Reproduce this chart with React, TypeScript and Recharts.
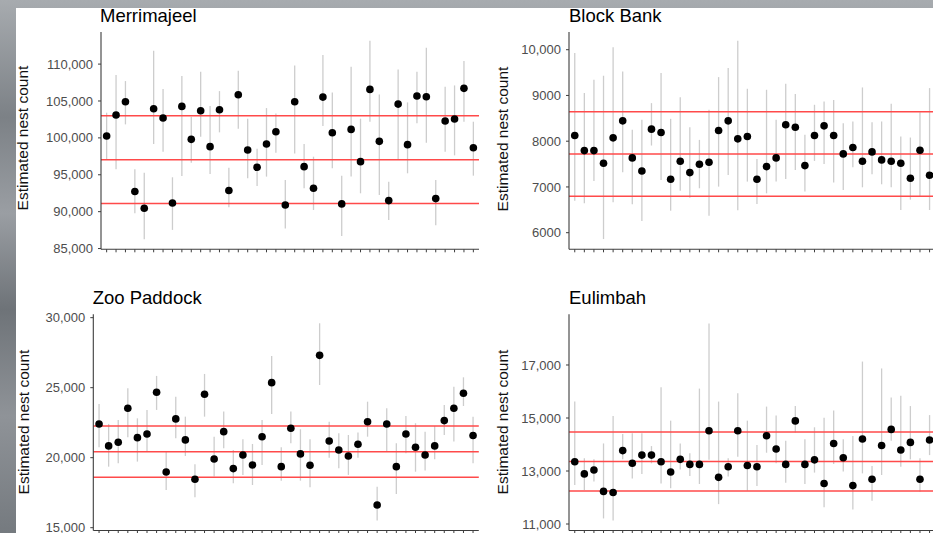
import { ComposedChart, Scatter, ErrorBar, XAxis, YAxis, ReferenceLine } from "recharts";

const FONT = '"Liberation Sans", Arial, Helvetica, sans-serif';
const AXIS = "#3c3c3c";

// survey index along the x axis (no labels in the original)
const surveys = [
  1, 2, 3, 4, 5, 6, 7, 8, 9, 10, 11, 12, 13, 14, 15, 16, 17, 18, 19, 20,
  21, 22, 23, 24, 25, 26, 27, 28, 29, 30, 31, 32, 33, 34, 35, 36, 37, 38, 39, 40,
];

// Merrimajeel
const merrimajeelEst = [100250, 103100, 104900, 92730, 90460, 103950, 102690, 91180, 104270, 99800, 103680, 98810, 103820, 92870, 105850, 98360, 96010, 99170, 100840, 90910, 104900, 96100, 93170, 105530, 100700, 91050, 101150, 96780, 106570, 99530, 91500, 104580, 99080, 105670, 105580, 91770, 102280, 102550, 106710, 98670];
const merrimajeelLow = [97090, 95740, 101830, 89780, 86260, 99170, 98130, 87530, 94840, 96640, 100160, 95110, 100750, 90590, 101240, 94520, 93480, 94750, 97990, 87710, 97900, 93170, 90230, 101610, 95870, 86710, 94750, 92490, 102190, 92260, 88880, 97000, 95200, 101970, 99350, 88160, 98130, 97630, 102190, 94880];
const merrimajeelHigh = [103410, 108510, 107700, 95740, 95290, 111800, 106620, 94660, 108380, 102870, 108960, 104310, 106340, 95940, 109100, 102600, 98540, 104040, 103320, 94300, 109820, 99170, 97450, 111220, 106160, 94880, 109640, 102600, 113160, 105890, 94070, 109280, 104810, 108960, 112220, 94300, 106930, 107110, 110410, 102190];
const merrimajeelLines = [103000, 97050, 91100];
const merrimajeelTicks = [85000, 90000, 95000, 100000, 105000, 110000];

// Block Bank
const blockBankEst = [8124, 7795, 7795, 7518, 8073, 8445, 7635, 7350, 8263, 8190, 7168, 7562, 7314, 7496, 7540, 8233, 8445, 8051, 8102, 7168, 7445, 7635, 8358, 8306, 7467, 8124, 8336, 8124, 7722, 7861, 7562, 7766, 7591, 7562, 7518, 7190, 7803, 7255];
const blockBankLow = [6700, 6642, 7131, 5861, 6664, 7321, 6620, 6255, 7905, 7153, 6481, 6919, 6766, 6971, 6372, 7007, 7263, 6489, 7117, 6627, 6861, 7117, 7175, 7372, 6898, 7569, 7503, 7095, 6934, 7430, 6992, 7277, 7058, 6992, 6496, 6722, 6803, 6496];
const blockBankHigh = [9927, 9051, 9343, 9431, 10051, 9526, 8248, 8467, 8832, 9489, 8489, 8963, 8306, 8029, 8686, 9401, 9599, 10197, 9146, 7613, 9124, 8467, 9255, 9029, 8139, 8796, 8869, 8898, 8394, 8431, 9175, 8416, 8431, 8817, 8102, 8080, 8635, 9161];
const blockBankLines = [8645, 7722, 6795];
const blockBankTicks = [6000, 7000, 8000, 9000, 10000];

// Zoo Paddock
const zooPaddockEst = [22410, 20840, 21100, 23530, 21430, 21690, 24670, 18980, 22770, 21270, 18460, 24530, 19910, 21860, 19220, 20190, 19480, 21500, 25360, 19360, 22100, 20270, 19460, 27310, 21190, 20550, 20120, 20960, 22570, 16620, 22410, 19360, 21690, 20740, 20190, 20840, 22650, 23530, 24600, 21580];
const zooPaddockLow = [20740, 19360, 19600, 21460, 19720, 20430, 23410, 17700, 21380, 20120, 17170, 22930, 18650, 20670, 18170, 18770, 18050, 19480, 23120, 18360, 21030, 18360, 17890, 25190, 20000, 19240, 18770, 20000, 21500, 15510, 20430, 17410, 20310, 19000, 19080, 19890, 21620, 21150, 23690, 19600];
const zooPaddockHigh = [23840, 22410, 22690, 24950, 22810, 23410, 25840, 20430, 24360, 22930, 19530, 25980, 21500, 23290, 20550, 21310, 20980, 22690, 27260, 20740, 23290, 22030, 21310, 29600, 22570, 21740, 21620, 21790, 24000, 17930, 23530, 21030, 22980, 22460, 21860, 22270, 23760, 25070, 25740, 22930];
const zooPaddockLines = [22270, 20430, 18600];
const zooPaddockTicks = [15000, 20000, 25000, 30000];

// Eulimbah
const eulimbahEst = [13350, 12890, 13040, 12230, 12190, 13770, 13290, 13600, 13600, 13350, 12960, 13440, 13250, 13250, 14520, 12760, 13160, 14520, 13210, 13160, 14330, 13830, 13250, 14890, 13250, 13420, 12530, 14040, 13500, 12450, 14210, 12690, 13960, 14570, 13790, 14080, 12690, 14170];
const eulimbahLow = [12470, 12280, 12600, 11210, 11130, 13440, 12720, 12890, 13290, 12530, 12350, 13060, 12810, 12510, 13420, 11750, 12790, 13540, 12260, 12430, 13690, 13290, 12560, 14450, 12510, 12940, 11630, 13260, 12980, 11550, 12910, 11880, 12850, 14140, 13160, 13440, 12220, 13600];
const eulimbahHigh = [15620, 13480, 13440, 14040, 15080, 14400, 14420, 14420, 13940, 16160, 14900, 14040, 13670, 16110, 18570, 15620, 13480, 15930, 14900, 13980, 15430, 15090, 14140, 15450, 14200, 14650, 15010, 15280, 14200, 14320, 17130, 13190, 16870, 15770, 15840, 15450, 13480, 15110];
const eulimbahLines = [14470, 13360, 12250];
const eulimbahTicks = [11000, 13000, 15000, 17000];

type Row = { i: number; est: number; err: [number, number] };

function buildRows(est: number[], low: number[], high: number[]): Row[] {
  return est.map((v, k) => ({ i: surveys[k], est: v, err: [v - low[k], high[k] - v] }));
}

const fmt = (v: number) => (v >= 10000 ? v.toLocaleString("en-US") : String(v));

type PanelProps = {
  title: string;
  est: number[];
  low: number[];
  high: number[];
  lines: number[];
  ticks: number[];
  domain: [number, number];
  left: number;
  top: number;
  height: number;
  plotTop: number;
  right: number;
  bottom: number;
  xh: number;
  yw: number;
  titleX: number;
  titleY: number;
  labelX: number;
  labelY: number;
};

const CHART_W = 490;

function Panel(p: PanelProps) {
  const rows = buildRows(p.est, p.low, p.high);
  return (
    <>
      <div style={{ position: "absolute", left: p.left, top: p.top, width: CHART_W, height: p.height }}>
        <ComposedChart
          width={CHART_W}
          height={p.height}
          data={rows}
          margin={{ top: p.plotTop, right: p.right, left: 0, bottom: p.bottom }}
        >
          <XAxis
            type="number"
            dataKey="i"
            domain={[0.4, 40.6]}
            ticks={surveys}
            interval={0}
            tick={() => <g />}
            tickSize={3}
            height={p.xh}
            axisLine={{ stroke: AXIS, strokeWidth: 1.1 }}
            tickLine={{ stroke: AXIS }}
          />
          <YAxis
            type="number"
            dataKey="est"
            domain={p.domain}
            ticks={p.ticks}
            interval={0}
            allowDataOverflow
            width={p.yw}
            tickFormatter={fmt}
            tickSize={3}
            tickMargin={5}
            tick={{ fill: "#4d4d4d", fontSize: 13, fontFamily: FONT }}
            axisLine={{ stroke: AXIS, strokeWidth: 1.1 }}
            tickLine={{ stroke: AXIS }}
          />
          <Scatter dataKey="est" isAnimationActive={false} shape={() => <g />}>
            <ErrorBar
              dataKey="err"
              direction="y"
              width={0}
              stroke="#cdcdcd"
              strokeWidth={1.3}
              isAnimationActive={false}
            />
          </Scatter>
          {p.lines.map((y) => (
            <ReferenceLine key={y} y={y} stroke="#ff4a4a" strokeWidth={1.5} />
          ))}
          <Scatter
            dataKey="est"
            isAnimationActive={false}
            shape={(s: any) => <circle cx={s.cx} cy={s.cy} r={3.8} fill="#000" />}
          />
        </ComposedChart>
      </div>
      <div
        style={{
          position: "absolute",
          left: p.titleX,
          top: p.titleY,
          fontFamily: FONT,
          fontSize: 18.5,
          lineHeight: "19px",
          color: "#000",
          whiteSpace: "nowrap",
        }}
      >
        {p.title}
      </div>
      <div
        style={{
          position: "absolute",
          left: p.labelX,
          top: p.labelY,
          transform: "translate(-50%, -50%) rotate(-90deg)",
          fontFamily: FONT,
          fontSize: 15.5,
          lineHeight: "16px",
          color: "#111",
          whiteSpace: "nowrap",
        }}
      >
        Estimated nest count
      </div>
    </>
  );
}

export default function App() {
  return (
    <div
      style={{
        position: "absolute",
        left: 0,
        top: 0,
        width: 933,
        height: 533,
        overflow: "hidden",
        background:
          "linear-gradient(180deg, #a7abaf 0%, #7c8186 22%, #9a9ea3 40%, #6e7378 58%, #8f9398 78%, #757a7f 100%)",
      }}
    >
      <div style={{ position: "absolute", left: 16, top: 8, right: 0, bottom: 0, background: "#fff" }} />
      <Panel
        title="Merrimajeel"
        est={merrimajeelEst}
        low={merrimajeelLow}
        high={merrimajeelHigh}
        lines={merrimajeelLines}
        ticks={merrimajeelTicks}
        domain={[84900, 114350]}
        left={0}
        top={0}
        height={262}
        plotTop={32}
        right={11}
        bottom={6.7}
        xh={6}
        yw={101}
        titleX={100}
        titleY={6}
        labelX={23.3}
        labelY={138}
      />
      <Panel
        title="Block Bank"
        est={blockBankEst}
        low={blockBankLow}
        high={blockBankHigh}
        lines={blockBankLines}
        ticks={blockBankTicks}
        domain={[5637, 10387]}
        left={480}
        top={0}
        height={262}
        plotTop={32}
        right={15.5}
        bottom={6.7}
        xh={6}
        yw={89}
        titleX={569}
        titleY={6}
        labelX={502.7}
        labelY={139}
      />
      <Panel
        title="Zoo Paddock"
        est={zooPaddockEst}
        low={zooPaddockLow}
        high={zooPaddockHigh}
        lines={zooPaddockLines}
        ticks={zooPaddockTicks}
        domain={[14800, 30240]}
        left={0}
        top={270}
        height={263}
        plotTop={44.3}
        right={11.2}
        bottom={0}
        xh={2.5}
        yw={93.3}
        titleX={92.7}
        titleY={288}
        labelX={24}
        labelY={421.7}
      />
      <Panel
        title="Eulimbah"
        est={eulimbahEst}
        low={eulimbahLow}
        high={eulimbahHigh}
        lines={eulimbahLines}
        ticks={eulimbahTicks}
        domain={[10755, 18913]}
        left={480}
        top={270}
        height={263}
        plotTop={44.3}
        right={15.5}
        bottom={0}
        xh={2.5}
        yw={89}
        titleX={569}
        titleY={288}
        labelX={502.7}
        labelY={421.7}
      />
    </div>
  );
}
